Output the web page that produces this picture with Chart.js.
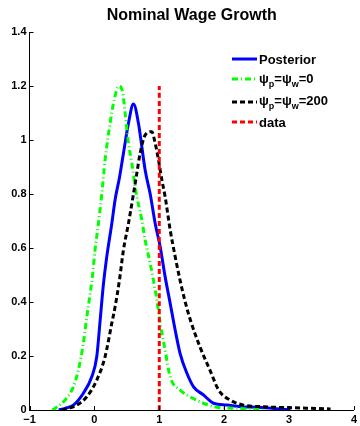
<!DOCTYPE html>
<html>
<head>
<meta charset="utf-8">
<script src="https://cdn.jsdelivr.net/npm/chart.js@4.4.0/dist/chart.umd.min.js"></script>
<style>
    html, body { margin: 0; padding: 0; background: #fff; }
    #wrap { width: 360px; height: 426px; }
</style>
</head>
<body>
<div id="wrap"><canvas id="c" width="360" height="426"></canvas></div>
<script>
// 后验 (Posterior)
var postX = [-0.55, -0.452, -0.324, -0.17, -0.04, 0.037, 0.088, 0.139, 0.191, 0.268, 0.32, 0.386, 0.448, 0.525, 0.602, 0.679, 0.731, 0.782, 0.86, 0.937, 1.014, 1.09, 1.168, 1.245, 1.32, 1.426, 1.528, 1.68, 1.836, 2.04, 2.25, 2.51, 2.8, 3.02];
var postY = [0, 0.006, 0.018, 0.062, 0.123, 0.198, 0.33, 0.465, 0.568, 0.69, 0.78, 0.86, 0.951, 1.062, 1.133, 1.062, 0.975, 0.889, 0.8, 0.691, 0.605, 0.494, 0.395, 0.296, 0.21, 0.136, 0.086, 0.056, 0.025, 0.0185, 0.012, 0.01, 0.005, 0];

// psi_p = psi_w = 0
var psi0X = [-0.65, -0.606, -0.452, -0.324, -0.247, -0.17, -0.117, -0.066, -0.025, 0.01, 0.062, 0.114, 0.165, 0.242, 0.304, 0.38, 0.438, 0.474, 0.525, 0.577, 0.628, 0.654, 0.731, 0.782, 0.86, 0.91, 0.963, 1.014, 1.09, 1.168, 1.32, 1.477, 1.68, 1.89, 2.2, 2.6];
var psi0Y = [0, 0.006, 0.037, 0.086, 0.148, 0.247, 0.345, 0.43, 0.506, 0.593, 0.69, 0.8, 0.926, 1.062, 1.148, 1.2, 1.173, 1.099, 0.988, 0.914, 0.827, 0.79, 0.704, 0.63, 0.543, 0.48, 0.407, 0.321, 0.222, 0.123, 0.074, 0.049, 0.025, 0.01, 0.006, 0];

// psi_p = psi_w = 200
var psi200X = [-0.5, -0.4, -0.27, -0.117, 0.037, 0.165, 0.268, 0.32, 0.386, 0.448, 0.525, 0.602, 0.654, 0.705, 0.782, 0.885, 0.937, 0.988, 1.04, 1.09, 1.168, 1.245, 1.32, 1.4, 1.477, 1.63, 1.786, 1.914, 2.09, 2.3, 2.6, 3.1, 3.64];
var psi200Y = [0, 0.006, 0.018, 0.049, 0.111, 0.198, 0.321, 0.383, 0.481, 0.593, 0.691, 0.8, 0.877, 0.951, 1.018, 1.031, 0.988, 0.926, 0.852, 0.79, 0.667, 0.568, 0.481, 0.4, 0.335, 0.232, 0.145, 0.074, 0.037, 0.018, 0.012, 0.008, 0.004];

// 数据竖线 (data)
var dataX = [1, 1];
var dataY = [0, 1.2];

var xTicks = [-1, 0, 1, 2, 3, 4];
var yTicks = [0, 0.2, 0.4, 0.6, 0.8, 1, 1.2, 1.4];

var TITLE = 'Nominal Wage Growth';

function toPoints(xs, ys) {
    var pts = [];
    for (var i = 0; i < xs.length; i++) {
        pts.push({ x: xs[i], y: ys[i] });
    }
    return pts;
}

var FONT = '"Liberation Sans", Arial, Helvetica, sans-serif';

// 图例条目：主文字 + 下标片段
var legendItems = [
    { color: '#0000ff', dash: [], parts: [['Posterior', 0]] },
    { color: '#00ff00', dash: [6, 3, 1, 3], parts: [['\u03c8', 0], ['p', 1], ['=\u03c8', 0], ['w', 1], ['=0', 0]] },
    { color: '#000000', dash: [5, 3], parts: [['\u03c8', 0], ['p', 1], ['=\u03c8', 0], ['w', 1], ['=200', 0]] },
    { color: '#ff0000', dash: [5, 3], parts: [['data', 0]] }
];
var legendRows = [59, 79, 102, 122];
var legendBase = [64, 83, 105, 127];

var matlabDecor = {
    id: 'matlabDecor',
    afterDraw: function (chart) {
        var ctx = chart.ctx;
        var area = chart.chartArea;
        var xs = chart.scales.x;
        var ys = chart.scales.y;
        ctx.save();

        // 向内的刻度线
        ctx.strokeStyle = '#000';
        ctx.lineWidth = 1;
        ctx.beginPath();
        xTicks.forEach(function (v) {
            var px = Math.round(xs.getPixelForValue(v)) + 0.5;
            ctx.moveTo(px, area.bottom);
            ctx.lineTo(px, area.bottom - 4);
        });
        yTicks.forEach(function (v) {
            var py = Math.round(ys.getPixelForValue(v)) + 0.5;
            ctx.moveTo(area.left, py);
            ctx.lineTo(area.left + 4, py);
        });
        ctx.stroke();

        // 标题，居中于绘图区
        ctx.fillStyle = '#000';
        ctx.font = 'bold 16px ' + FONT;
        ctx.textAlign = 'center';
        ctx.textBaseline = 'alphabetic';
        ctx.fillText(TITLE, (area.left + area.right) / 2, 20);

        // 图例（无边框）
        ctx.textAlign = 'left';
        legendItems.forEach(function (item, i) {
            var ly = legendRows[i];
            ctx.strokeStyle = item.color;
            ctx.lineWidth = 3;
            ctx.setLineDash(item.dash);
            ctx.beginPath();
            ctx.moveTo(232, ly);
            ctx.lineTo(257, ly);
            ctx.stroke();
            ctx.setLineDash([]);

            var tx = 259;
            var base = legendBase[i];
            item.parts.forEach(function (p) {
                if (p[1]) {
                    ctx.font = 'bold 9px ' + FONT;
                    ctx.fillText(p[0], tx, base + 4);
                } else {
                    ctx.font = 'bold 13px ' + FONT;
                    ctx.fillText(p[0], tx, base);
                }
                tx += ctx.measureText(p[0]).width;
            });
        });
        ctx.restore();
    }
};

var tickFont = { family: FONT, size: 11, weight: 'bold' };

var ctx = document.getElementById('c').getContext('2d');
var chart = new Chart(ctx, {
    type: 'scatter',
    data: {
        datasets: [
            {
                label: 'Posterior',
                data: toPoints(postX, postY),
                borderColor: '#0000ff',
                borderWidth: 3,
                order: 3
            },
            {
                label: 'psi0',
                data: toPoints(psi0X, psi0Y),
                borderColor: '#00ff00',
                borderWidth: 3,
                borderDash: [6, 3, 1, 3],
                order: 2
            },
            {
                label: 'psi200',
                data: toPoints(psi200X, psi200Y),
                borderColor: '#000000',
                borderWidth: 3,
                borderDash: [5, 3],
                order: 1
            },
            {
                label: 'data',
                data: toPoints(dataX, dataY),
                borderColor: '#ff0000',
                borderWidth: 3,
                borderDash: [5, 3],
                order: 0
            }
        ].map(function (d) {
            d.showLine = true;
            d.pointRadius = 0;
            d.fill = false;
            d.cubicInterpolationMode = 'monotone';
            return d;
        })
    },
    options: {
        responsive: false,
        animation: false,
        layout: { padding: { left: 0, right: 6, top: 32, bottom: 0 } },
        plugins: {
            legend: { display: false },
            tooltip: { enabled: false },
            title: { display: false }
        },
        scales: {
            x: {
                type: 'linear',
                min: -1,
                max: 4,
                afterBuildTicks: function (s) {
                    s.ticks = xTicks.map(function (v) { return { value: v }; });
                },
                ticks: {
                    color: '#000',
                    font: tickFont,
                    padding: 3,
                    maxRotation: 0,
                    autoSkip: false,
                    callback: function (v) {
                        return String(v).replace('-', '\u2212');
                    }
                },
                grid: { display: false, drawTicks: false },
                border: { display: true, color: '#000', width: 1 },
                afterFit: function (s) { s.height = 16; }
            },
            y: {
                type: 'linear',
                min: 0,
                max: 1.4,
                afterBuildTicks: function (s) {
                    s.ticks = yTicks.map(function (v) { return { value: v }; });
                },
                ticks: {
                    color: '#000',
                    font: tickFont,
                    padding: 3,
                    autoSkip: false,
                    callback: function (v) {
                        return String(Math.round(v * 10) / 10);
                    }
                },
                grid: { display: false, drawTicks: false },
                border: { display: true, color: '#000', width: 1 },
                afterFit: function (s) { s.width = 29.5; }
            }
        }
    },
    plugins: [matlabDecor]
});
</script>
</body>
</html>
